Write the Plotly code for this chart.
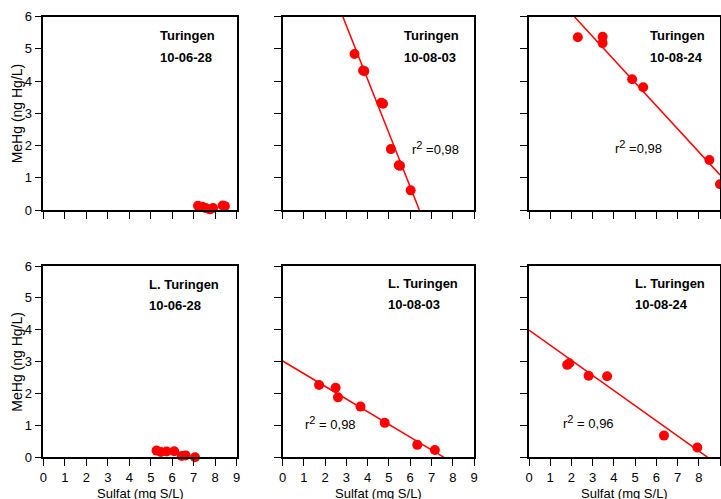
import plotly.graph_objects as go

# ---------------- data ----------------
sites = ["Turingen", "Turingen", "Turingen", "L. Turingen", "L. Turingen", "L. Turingen"]
dates = ["10-06-28", "10-08-03", "10-08-24", "10-06-28", "10-08-03", "10-08-24"]

t0628_sulfat = [7.2, 7.4, 7.55, 7.75, 7.9, 8.35, 8.45]
t0628_mehg = [0.13, 0.10, 0.06, 0.02, 0.06, 0.14, 0.12]

t0803_sulfat = [3.38, 3.78, 3.84, 4.64, 4.72, 5.09, 5.46, 5.52, 6.02]
t0803_mehg = [4.84, 4.33, 4.31, 3.33, 3.30, 1.89, 1.39, 1.37, 0.61]

t0824_sulfat = [2.30, 3.47, 3.47, 4.86, 5.38, 8.50, 9.0]
t0824_mehg = [5.36, 5.38, 5.18, 4.06, 3.81, 1.55, 0.80]

l0628_sulfat = [5.27, 5.47, 5.74, 6.09, 6.44, 6.62, 7.06]
l0628_mehg = [0.21, 0.17, 0.18, 0.19, 0.04, 0.06, 0.0]

l0803_sulfat = [1.71, 2.49, 2.60, 3.66, 4.80, 6.33, 7.16]
l0803_mehg = [2.27, 2.18, 1.88, 1.59, 1.08, 0.39, 0.23]

l0824_sulfat = [1.80, 1.90, 2.81, 3.68, 6.36, 7.93]
l0824_mehg = [2.90, 2.95, 2.56, 2.54, 0.68, 0.31]

# regression lines (end points)
t0803_fit_x = [2.83, 6.43]
t0803_fit_y = [6.0, 0.0]
t0824_fit_x = [2.14, 9.0]
t0824_fit_y = [6.0, 1.09]
l0803_fit_x = [0.0, 7.59]
l0803_fit_y = [3.02, 0.0]
l0824_fit_x = [0.0, 8.42]
l0824_fit_y = [3.99, 0.0]

SUP2 = "<sup><span style='font-size:11px'>2</span></sup>"
r2_labels = [None, f"r{SUP2} =0,98", f"r{SUP2} =0,98", None, f"r{SUP2} = 0,98", f"r{SUP2} = 0,96"]

x_ticks = [0, 1, 2, 3, 4, 5, 6, 7, 8, 9]
y_ticks = [0, 1, 2, 3, 4, 5, 6]

points = [
    (t0628_sulfat, t0628_mehg), (t0803_sulfat, t0803_mehg), (t0824_sulfat, t0824_mehg),
    (l0628_sulfat, l0628_mehg), (l0803_sulfat, l0803_mehg), (l0824_sulfat, l0824_mehg),
]
fits = [None, (t0803_fit_x, t0803_fit_y), (t0824_fit_x, t0824_fit_y),
        None, (l0803_fit_x, l0803_fit_y), (l0824_fit_x, l0824_fit_y)]

# ---------------- layout / style ----------------
W, H = 721, 499
col_px = [(43.3, 236.7), (282.7, 474.0), (529.0, 720.0)]
row_px = [(16.7, 210.0), (266.0, 457.3)]

label_pos = [(5.33, 5.43, 4.73), (5.61, 5.43, 4.73), (5.61, 5.43, 4.73),
             (4.81, 5.42, 4.77), (4.87, 5.45, 4.80), (4.92, 5.45, 4.80)]
r2_pos = [None, (6.0, 1.93), (3.95, 1.97), None, (0.97, 1.08), (1.51, 1.12)]

RED = "#ff0000"
FONT = "Liberation Sans, Arial, sans-serif"


def fx(px):
    return px / W


def fy(py):
    return 1 - py / H


fig = go.Figure()
annotations = []

for i in range(6):
    r, c = divmod(i, 3)
    n = i + 1
    xa = "x" if n == 1 else f"x{n}"
    ya = "y" if n == 1 else f"y{n}"
    xkey = "xaxis" if n == 1 else f"xaxis{n}"
    ykey = "yaxis" if n == 1 else f"yaxis{n}"

    if fits[i] is not None:
        fig.add_trace(go.Scatter(x=fits[i][0], y=fits[i][1], mode="lines",
                                 line=dict(color=RED, width=1.5),
                                 xaxis=xa, yaxis=ya, showlegend=False, hoverinfo="skip"))
    fig.add_trace(go.Scatter(x=points[i][0], y=points[i][1], mode="markers",
                             marker=dict(color=RED, size=10, line=dict(width=0)),
                             cliponaxis=False, xaxis=xa, yaxis=ya, showlegend=False))

    x0, x1 = col_px[c]
    y0, y1 = row_px[r]
    fig.layout[xkey] = dict(
        domain=[fx(x0), fx(x1)], range=[0, 9], anchor=ya,
        tickvals=x_ticks, showticklabels=(r == 1), automargin=False,
        ticks="outside", ticklen=7, tickwidth=1.3, tickcolor="black",
        showline=True, linecolor="black", linewidth=1.6, mirror=True,
        showgrid=False, zeroline=False, fixedrange=True,
        tickfont=dict(family=FONT, size=13, color="black"),
    )
    fig.layout[ykey] = dict(
        domain=[fy(y1), fy(y0)], range=[0, 6], anchor=xa,
        tickvals=y_ticks, showticklabels=(c == 0), automargin=False,
        ticks="outside", ticklen=7, tickwidth=1.3, tickcolor="black",
        showline=True, linecolor="black", linewidth=1.6, mirror=True,
        showgrid=False, zeroline=False, fixedrange=True,
        tickfont=dict(family=FONT, size=13, color="black"),
    )

    lx, ly1, ly2 = label_pos[i]
    for txt, yy in ((sites[i], ly1), (dates[i], ly2)):
        annotations.append(dict(x=lx, y=yy, xref=xa, yref=ya, text=f"<b>{txt}</b>",
                                showarrow=False, xanchor="left", yanchor="middle",
                                font=dict(family=FONT, size=13, color="black")))
    if r2_labels[i] is not None:
        rx, ry = r2_pos[i]
        annotations.append(dict(x=rx, y=ry, xref=xa, yref=ya, text=r2_labels[i],
                                showarrow=False, xanchor="left", yanchor="middle",
                                font=dict(family=FONT, size=13, color="black")))

# axis titles
for r in range(2):
    y0, y1 = row_px[r]
    annotations.append(dict(x=fx(17), y=fy((y0 + y1) / 2), xref="paper", yref="paper",
                            text="MeHg (ng Hg/L)", textangle=-90, showarrow=False,
                            xanchor="center", yanchor="middle",
                            font=dict(family=FONT, size=14, color="black")))
for c in range(3):
    x0, x1 = col_px[c]
    annotations.append(dict(x=fx((x0 + x1) / 2), y=fy(493), xref="paper", yref="paper",
                            text="Sulfat (mg S/L)", showarrow=False,
                            xanchor="center", yanchor="middle",
                            font=dict(family=FONT, size=13, color="black")))

fig.update_layout(
    width=W, height=H, margin=dict(l=0, r=0, t=0, b=0, autoexpand=False),
    paper_bgcolor="white", plot_bgcolor="white",
    annotations=annotations, showlegend=False,
)

# remove the default page margin so the figure fills the window exactly
reset_css = ("document.body.style.margin='0';"
             "document.body.style.padding='0';"
             "document.documentElement.style.overflow='hidden';")

fig.write_html("out.html", config={"displayModeBar": False}, post_script=reset_css)
